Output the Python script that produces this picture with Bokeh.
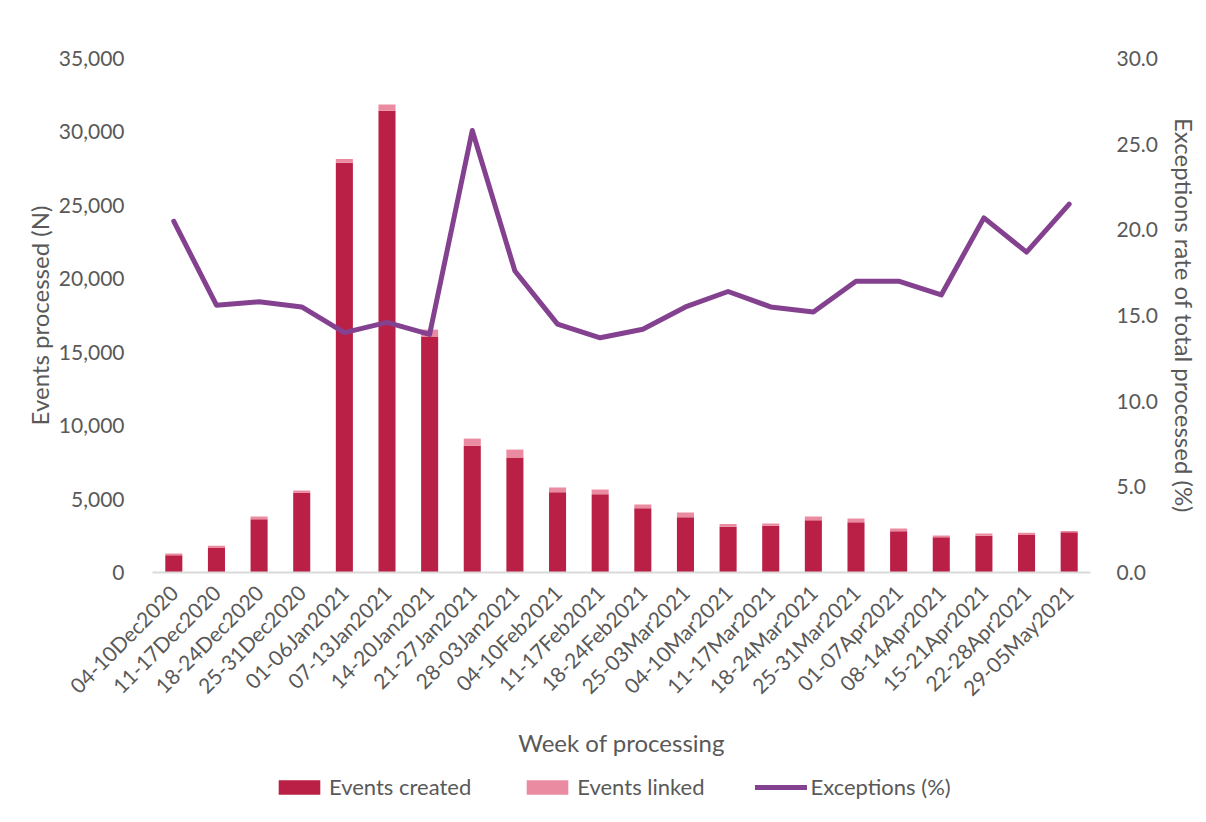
import math
from bokeh.plotting import figure
from bokeh.layouts import column
from bokeh.models import (FactorRange, Range1d, LinearAxis, SingleIntervalTicker,
                          NumeralTickFormatter, Legend, LegendItem)
from bokeh.embed import file_html
from bokeh.resources import INLINE

weeks = ["04-10Dec2020", "11-17Dec2020", "18-24Dec2020", "25-31Dec2020",
         "01-06Jan2021", "07-13Jan2021", "14-20Jan2021", "21-27Jan2021",
         "28-03Jan2021", "04-10Feb2021", "11-17Feb2021", "18-24Feb2021",
         "25-03Mar2021", "04-10Mar2021", "11-17Mar2021", "18-24Mar2021",
         "25-31Mar2021", "01-07Apr2021", "08-14Apr2021", "15-21Apr2021",
         "22-28Apr2021", "29-05May2021"]
events_created = [1180, 1660, 3630, 5420, 27900, 31450, 16070, 8620,
                  7830, 5470, 5330, 4380, 3770, 3110, 3180, 3560,
                  3430, 2810, 2400, 2500, 2560, 2740]
events_linked = [110, 160, 180, 160, 250, 410, 470, 500,
                 540, 320, 320, 250, 320, 200, 160, 250,
                 250, 180, 120, 150, 140, 90]
exceptions_pct = [20.5, 15.6, 15.8, 15.5, 14.0, 14.6, 13.9, 25.8,
                  17.6, 14.5, 13.7, 14.2, 15.5, 16.4, 15.5, 15.2,
                  17.0, 17.0, 16.2, 20.7, 18.7, 21.5]
legend_labels = ["Events created", "Events linked", "Exceptions (%)"]

FONT = "Lato"
GREY = "#595959"
C_CREATED = "#BA2045"
C_LINKED = "#EB8BA1"
C_LINE = "#83418F"

data = {"week": weeks, "created": events_created, "linked": events_linked,
        "pct": exceptions_pct}

p = figure(width=1206, height=770, x_range=FactorRange(factors=weeks),
           y_range=Range1d(0, 35000), output_backend="svg",
           toolbar_location=None, min_border_left=152, min_border_right=116,
           min_border_top=58, min_border_bottom=198)
p.extra_y_ranges = {"pct": Range1d(0, 30)}

p.outline_line_color = None
p.xgrid.grid_line_color = None
p.ygrid.grid_line_color = None

bars = p.vbar_stack(["created", "linked"], x="week", width=0.4,
                    color=[C_CREATED, C_LINKED], line_color=None, source=data)
line = p.line(x="week", y="pct", y_range_name="pct", source=data,
              line_color=C_LINE, line_width=5, line_join="round",
              line_cap="round")

ya = p.yaxis[0]
ya.ticker = SingleIntervalTicker(interval=5000)
ya.formatter = NumeralTickFormatter(format="0,0")
ya.axis_label = "Events processed (N)"

ra = LinearAxis(y_range_name="pct", ticker=SingleIntervalTicker(interval=5),
                formatter=NumeralTickFormatter(format="0.0"),
                axis_label="Exceptions rate of total processed (%)")
p.add_layout(ra, "right")

for ax in (ya, ra):
    ax.axis_line_color = None
    ax.major_tick_line_color = None
    ax.minor_tick_line_color = None
    ax.major_label_text_font = FONT
    ax.major_label_text_font_size = "21px"
    ax.major_label_text_color = GREY
    ax.axis_label_text_font = FONT
    ax.axis_label_text_font_size = "24px"
    ax.axis_label_text_font_style = "normal"
    ax.axis_label_text_color = GREY
ya.major_label_standoff = 22
ya.axis_label_standoff = 2
ra.major_label_standoff = 20
ra.axis_label_standoff = 9

xa = p.xaxis[0]
xa.axis_label = "Week of processing"
xa.axis_line_color = "#D9D9D9"
xa.axis_line_width = 2
xa.major_tick_line_color = None
xa.minor_tick_line_color = None
xa.major_label_orientation = math.pi / 4
xa.major_label_text_font = FONT
xa.major_label_text_font_size = "21px"
xa.major_label_text_color = GREY
xa.major_label_standoff = 10
xa.axis_label_text_font = FONT
xa.axis_label_text_font_size = "24px"
xa.axis_label_text_font_style = "normal"
xa.axis_label_text_color = GREY
xa.axis_label_standoff = 16

# legend strip below the chart (proxy glyphs sit outside the visible range)
p2 = figure(width=1206, height=52, x_range=Range1d(0, 1), y_range=Range1d(0, 1),
            output_backend="svg", toolbar_location=None, min_border=0)
p2.outline_line_color = None
p2.axis.visible = False
p2.grid.visible = False
lg_created = p2.vbar(x=[-5], top=[-5], bottom=[-6], width=0.1, color=C_CREATED,
                     line_color=None)
lg_linked = p2.vbar(x=[-5], top=[-5], bottom=[-6], width=0.1, color=C_LINKED,
                    line_color=None)
lg_line = p2.line(x=[-6, -5], y=[-6, -5], line_color=C_LINE, line_width=5,
                  line_cap="round")

legend = Legend(items=[LegendItem(label=legend_labels[0], renderers=[lg_created]),
                       LegendItem(label=legend_labels[1], renderers=[lg_linked]),
                       LegendItem(label=legend_labels[2], renderers=[lg_line])],
                orientation="horizontal", location=(121, 22),
                glyph_width=52, glyph_height=18, label_standoff=4, spacing=50,
                label_text_font=FONT, label_text_font_size="22px",
                label_text_color=GREY, border_line_color=None,
                background_fill_alpha=0, margin=0, padding=0)
p2.add_layout(legend, "center")

layout = column(p, p2, spacing=0)

open("out.html", "w").write(file_html(layout, INLINE))
